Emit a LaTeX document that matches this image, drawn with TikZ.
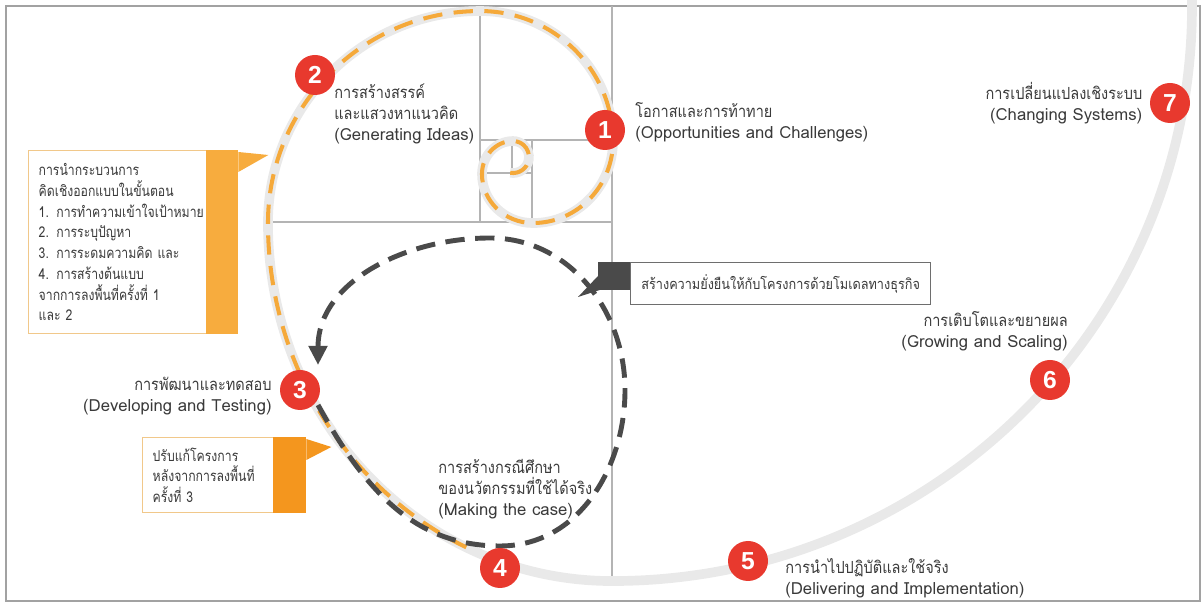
\documentclass[tikz,border=0pt]{standalone}
\usepackage{fontspec}
\setmainfont{Loma}[Script=Thai]
\newfontfamily\thai{Loma}[Script=Thai, FakeStretch=0.87]
\newfontfamily\thainote{Loma}[Script=Thai, FakeStretch=0.82]
\newfontfamily\numfont{Liberation Sans}
\usetikzlibrary{arrows.meta, positioning}

\definecolor{stepred}{HTML}{E8392E}
\definecolor{spiralgray}{HTML}{E9E9E9}
\definecolor{gridgray}{HTML}{B4B4B4}
\definecolor{dashorange}{HTML}{F5A93A}
\definecolor{noteorange}{HTML}{F7AC3E}
\definecolor{notedeep}{HTML}{F4961E}
\definecolor{noteline}{HTML}{F1C88A}
\definecolor{loopgray}{HTML}{4A4A4A}
\definecolor{textgray}{HTML}{3A3A3A}

\begin{document}
\begin{tikzpicture}[x=0.02cm, y=0.02cm,
    every node/.style={text=textgray, font=\fontsize{9.5}{11.8}\selectfont},
    stepnum/.style={circle, fill=stepred, minimum size=0.8cm, inner sep=0pt,
        text=white, font=\numfont\bfseries\fontsize{14}{14}\selectfont},
    stage/.style={inner sep=0pt},
    gridline/.style={gridgray, line width=0.7pt},
    spiralbase/.style={spiralgray, line width=5.5pt},
    spiraldash/.style={dashorange, line width=2.3pt, dash pattern=on 11pt off 6.5pt},
    loopdash/.style={loopgray, line width=2.8pt, dash pattern=on 11pt off 6pt},
    notebox/.style={draw=noteline, line width=0.8pt, fill=white, anchor=north west,
        inner xsep=0.2cm, align=left, font=\thainote\fontsize{8.5}{11.8}\selectfont}]

    \useasboundingbox (0,0) rectangle (1203,604);

    % Frame and grid
    \draw[gridgray!90!black, line width=1.1pt] (6,3) rectangle (1200,598);
    \draw[gridline] (612,598) -- (612,23);
    \draw[gridline] (268,382) -- (612,382);
    \draw[gridline] (480,598) -- (480,382);
    \draw[gridline] (480,464) -- (612,464);
    \draw[gridline] (532,464) -- (532,382);
    \draw[gridline] (481,431) -- (532,431);
    \draw[gridline] (512,464) -- (512,431);

    % Spiral
    \draw[spiralbase] (510.2,431.2)
        arc[start angle=-100, end angle=90, radius=16]
        arc[start angle=90, end angle=180, x radius=31, y radius=33]
        arc[start angle=180, end angle=270, x radius=51, y radius=49]
        arc[start angle=270, end angle=360, x radius=80, y radius=82]
        arc[start angle=0, end angle=90, x radius=133, y radius=130]
        arc[start angle=90, end angle=180, radius=212]
        arc[start angle=180, end angle=270, x radius=344, y radius=358]
        arc[start angle=270, end angle=360, x radius=580, y radius=574] -- ++(0,10);
    \draw[spiraldash] (510.2,431.2)
        arc[start angle=-100, end angle=90, radius=16]
        arc[start angle=90, end angle=180, x radius=31, y radius=33]
        arc[start angle=180, end angle=270, x radius=51, y radius=49]
        arc[start angle=270, end angle=360, x radius=80, y radius=82]
        arc[start angle=0, end angle=90, x radius=133, y radius=130]
        arc[start angle=90, end angle=180, radius=212]
        arc[start angle=180, end angle=245, x radius=344, y radius=358];

    % Loop
    \coordinate (loopstart) at (318,199);
    \coordinate (loopbottom) at (500,58);
    \coordinate (loopright) at (625,214);
    \coordinate (looptop) at (490,366);
    \coordinate (loopend) at (318,239);
    \draw[loopdash, -{Triangle[length=0.38cm, width=0.36cm]}]
        (loopstart) to[out=-61, in=180] (loopbottom)
        to[out=0, in=-90] (loopright)
        to[out=90, in=0] (looptop)
        to[out=180, in=90] (loopend);

    % Notes
    \node (designnote) [notebox, text width=3.78cm, minimum height=3.66cm] at (28,454)
        {การนำกระบวนการ\\
         คิดเชิงออกแบบในขั้นตอน\\
         1. การทำความเข้าใจเป้าหมาย\\
         2. การระบุปัญหา\\
         3. การระดมความคิด และ\\
         4. การสร้างต้นแบบ\\
         จากการลงพื้นที่ครั้งที่ 1\\
         และ 2};
    \fill[noteorange] (designnote.north east) rectangle ([xshift=-0.64cm]designnote.south east);
    \fill[noteorange] ([yshift=-0.04cm]designnote.north east) -- ++(30,-3)
        -- ([yshift=-0.44cm]designnote.north east) -- cycle;

    \node (fixnote) [notebox, text width=2.86cm, minimum height=1.5cm] at (142,167)
        {ปรับแก้โครงการ\\
         หลังจากการลงพื้นที่\\
         ครั้งที่ 3};
    \fill[notedeep] (fixnote.north east) rectangle ([xshift=-0.66cm]fixnote.south east);
    \fill[notedeep] ([yshift=-0.04cm]fixnote.north east) -- ++(25,-8)
        -- ([yshift=-0.46cm]fixnote.north east) -- cycle;

    \node (modelnote) [draw=loopgray!80, line width=0.8pt, fill=white, anchor=north west,
        minimum width=6cm, minimum height=0.84cm, font=\thai\fontsize{8.3}{10}\selectfont]
        at (630,342) {สร้างความยั่งยืนให้กับโครงการด้วยโมเดลทางธุรกิจ};
    \fill[loopgray] (modelnote.north west) rectangle ++(-32,-28);
    \fill[loopgray] ([shift={(-32,-14)}]modelnote.north west)
        -- ([shift={(-52,-35)}]modelnote.north west)
        -- ([shift={(-24,-26)}]modelnote.north west) -- cycle;

    % Steps
    \node (c1) [stepnum] at (605,474) {1};
    \node (c2) [stepnum] at (315,529) {2};
    \node (c3) [stepnum] at (300,214) {3};
    \node (c4) [stepnum] at (500,36) {4};
    \node (c5) [stepnum] at (748,43) {5};
    \node (c6) [stepnum] at (1050,224) {6};
    \node (c7) [stepnum] at (1170,501) {7};

    % Labels
    \node (l1) [stage, anchor=west, align=left] at (635,482)
        {{\thai โอกาสและการท้าทาย}\\(Opportunities and Challenges)};
    \node (l2) [stage, anchor=north west, align=left] at (334,520)
        {{\thai การสร้างสรรค์}\\{\thai และแสวงหาแนวคิด}\\(Generating Ideas)};
    \node (l3) [stage, anchor=east, align=right] at (272,208)
        {{\thai การพัฒนาและทดสอบ}\\(Developing and Testing)};
    \node (l4) [stage, anchor=west, align=left] at (438,115)
        {{\thai การสร้างกรณีศึกษา}\\{\thai ของนวัตกรรมที่ใช้ได้จริง}\\(Making the case)};
    \node (l5) [stage, anchor=west, align=left] at (785,26)
        {{\thai การนำไปปฏิบัติและใช้จริง}\\(Delivering and Implementation)};
    \node (l6) [stage, anchor=east, align=right] at (1068,273)
        {{\thai การเติบโตและขยายผล}\\(Growing and Scaling)};
    \node (l7) [stage, left=0.14cm of c7, align=right]
        {{\thai การเปลี่ยนแปลงเชิงระบบ}\\(Changing Systems)};

\end{tikzpicture}
\end{document}
